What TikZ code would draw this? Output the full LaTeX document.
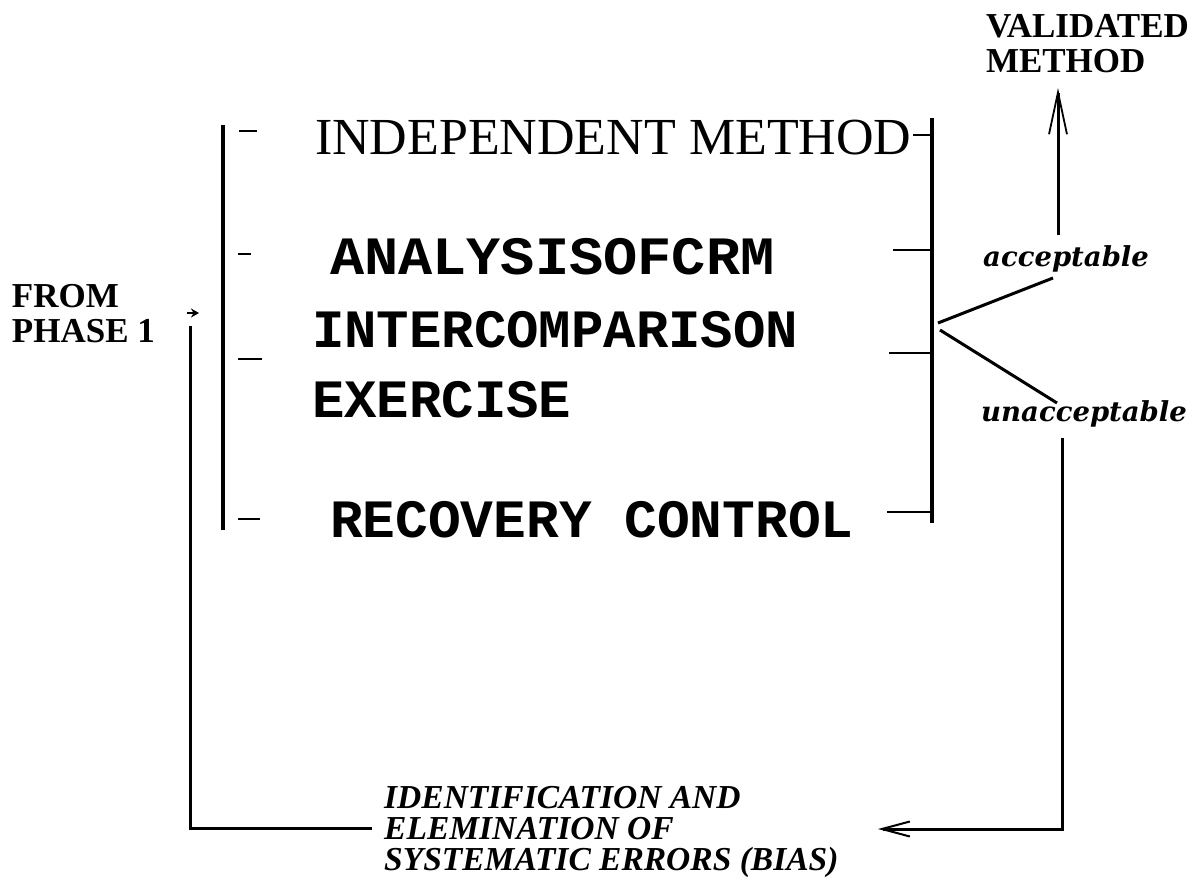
\documentclass[tikz,border=0pt]{standalone}
\usepackage{fontspec}
\setmainfont{Liberation Serif}
\newfontfamily\monob{Liberation Mono}
\newfontfamily\dvs{DejaVu Serif}
\usetikzlibrary{arrows.meta}
\begin{document}
\begin{tikzpicture}[x=1pt,y=-1pt]
\useasboundingbox[fill=white] (0,0) rectangle (1200,888);
\tikzset{
  txt/.style={inner sep=0pt, outer sep=0pt, anchor=west},
  mono/.style={txt, font=\monob\bfseries\fontsize{54}{54}\selectfont},
  lbl/.style={txt, font=\bfseries\fontsize{35}{35}\selectfont, align=left},
  judge/.style={inner sep=0pt, anchor=base west, font=\dvs\bfseries\itshape\fontsize{27.5}{27.5}\selectfont},
  bias/.style={inner sep=0pt, anchor=west, align=left, font=\bfseries\itshape\fontsize{33.5}{31}\selectfont},
  bar/.style={line width=3.4pt},
  ln/.style={line width=3pt},
  tickmark/.style={line width=2.2pt},
}
% texts
\node[txt, font=\fontsize{52}{52}\selectfont] (indep) at (315,138) {INDEPENDENT METHOD};
\node[mono] (anal) at (330,257) {\scalebox{1.055}[1]{ANALYSISOFCRM}};
\node[mono] (inter) at (312,330) {INTERCOMPARISON};
\node[mono] (exer) at (312,400) {EXERCISE};
\node[mono] (recov) at (330,520) {\scalebox{1.01}[1]{RECOVERY CONTROL}};
\node[lbl] (from) at (12,314) {FROM\\PHASE 1};
\node[lbl] (valid) at (986,44) {VALIDATED\\METHOD};
\node[judge] (acc) at (983,266) {acceptable};
\node[judge] (unacc) at (981,421) {unacceptable};
\node[bias] (bias) at (384,832) {IDENTIFICATION AND\\ELEMINATION OF\\SYSTEMATIC ERRORS (BIAS)};
% brackets
\coordinate (lbt) at (223,125);
\coordinate (lbb) at (223,530);
\coordinate (rbt) at (932,118);
\coordinate (rbb) at (932,523);
\draw[bar] (lbt) -- (lbb);
\draw[bar] (rbt) -- (rbb);
% left dashes
\draw[tickmark] (239,131) -- (257,131);
\draw[tickmark] (238,254) -- (251,254);
\draw[tickmark] (238,359) -- (262,359);
\draw[tickmark] (238,519) -- (260,519);
% right ticks
\draw[tickmark] (913,135) -- (932,135);
\draw[tickmark] (893,250) -- (932,250);
\draw[tickmark] (889,353) -- (932,353);
\draw[tickmark] (887,512) -- (932,512);
% branches
\coordinate (bra) at (938,323);
\coordinate (bru) at (940,330);
\draw[ln] (bra) -- (1053,278);
\draw[ln] (bru) -- (1057,403);
% validated arrow
\coordinate (vb) at (1058,235);
\coordinate (vt) at (1058,88);
\draw[ln, -{Straight Barb[length=42pt,width=18pt,line width=1.8pt]}] (vb) -- (vt);
% unacceptable loop
\coordinate (ud) at (1062,438);
\coordinate (uc) at (1062,829);
\coordinate (ut) at (878,829);
\draw[ln, -{Straight Barb[length=28pt,width=15pt,line width=2pt]}] (ud) -- (uc) -- (ut);
% return loop
\coordinate (rl) at (190,828);
\coordinate (rt) at (190,326);
\coordinate (re) at (372,828);
\draw[ln] (re) -- (rl) -- (rt);
\draw[line width=1.8pt, -{Stealth[length=8pt,width=9pt]}] (187,313) -- (199,313);
\end{tikzpicture}
\end{document}
